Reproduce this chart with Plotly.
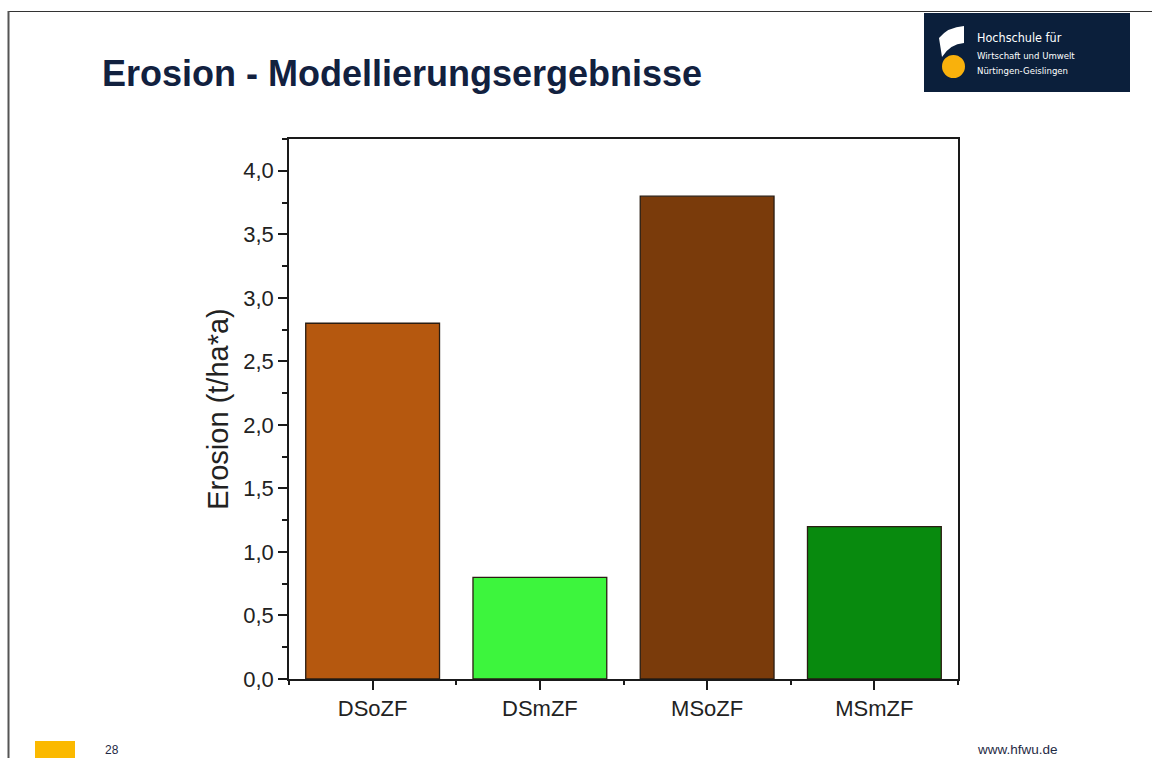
import plotly.graph_objects as go

# ---- data ----
categories = ["DSoZF", "DSmZF", "MSoZF", "MSmZF"]
erosion_values = [2.8, 0.8, 3.8, 1.2]
bar_colors = ["#B5580F", "#3DF53D", "#7A3B0B", "#088A0E"]
y_tick_values = [0, 0.5, 1, 1.5, 2, 2.5, 3, 3.5, 4]

TITLE = "Erosion - Modellierungsergebnisse"
Y_TITLE = "Erosion (t/ha*a)"

# ---- layout geometry (pixels) ----
W, H = 1152, 758
L, R, T, B = 289, 958, 139, 679
PW, PH = R - L, B - T


def px(x):
    return (x - L) / PW


def py(y):
    return (B - y) / PH


AXC = "#1a1a1a"
NAVY = "#12213F"
ARIAL = "Liberation Sans, Arial, sans-serif"

fig = go.Figure()
fig.add_trace(go.Bar(
    x=categories, y=erosion_values, width=0.8,
    marker=dict(color=bar_colors, line=dict(color="#2a1d12", width=1.3)),
    showlegend=False, hoverinfo="x+y",
))
# helper trace for boundary (minor) ticks on the category axis
fig.add_trace(go.Scatter(
    x=categories, y=erosion_values, xaxis="x2", mode="markers",
    marker=dict(opacity=0), showlegend=False, hoverinfo="skip",
))

shapes = [
    # slide frame
    dict(type="line", xref="paper", yref="paper", x0=px(8), x1=px(W), y0=py(11.5), y1=py(11.5),
         line=dict(color="#333333", width=1.2)),
    dict(type="line", xref="paper", yref="paper", x0=px(8.5), x1=px(8.5), y0=py(11), y1=py(H),
         line=dict(color="#555555", width=2)),
    # logo box
    dict(type="rect", xref="paper", yref="paper", x0=px(924), x1=px(1130), y0=py(13), y1=py(92),
         fillcolor="#0B1F3B", line=dict(width=0)),
    # logo white sheet
    dict(type="path", xref="paper", yref="paper",
         path=(f"M {px(939)},{py(38)} Q {px(948)},{py(27)} {px(964)},{py(26)} "
               f"L {px(964)},{py(43)} Q {px(950)},{py(44)} {px(942)},{py(57)} Z"),
         fillcolor="#FFFFFF", line=dict(width=0)),
    # logo yellow circle
    dict(type="circle", xref="paper", yref="paper", x0=px(942), x1=px(965), y0=py(55), y1=py(78),
         fillcolor="#F9B10C", line=dict(width=0)),
    # footer yellow block
    dict(type="rect", xref="paper", yref="paper", x0=px(35), x1=px(75), y0=py(741), y1=py(H),
         fillcolor="#FBB900", line=dict(width=0)),
]

logo_font = "Liberation Sans Narrow, DejaVu Sans Condensed, Roboto Condensed, Liberation Sans, sans-serif"
annotations = [
    dict(text=f"<b>{TITLE}</b>", x=px(100), y=py(73), xref="paper", yref="paper",
         xanchor="left", yanchor="middle", showarrow=False,
         font=dict(family=ARIAL, size=36, color=NAVY)),
    dict(text="Hochschule für", x=px(975), y=py(37.5), xref="paper", yref="paper",
         xanchor="left", yanchor="middle", showarrow=False,
         font=dict(family=logo_font, size=12.5, color="#FFFFFF")),
    dict(text="Wirtschaft und Umwelt", x=px(975), y=py(55.5), xref="paper", yref="paper",
         xanchor="left", yanchor="middle", showarrow=False,
         font=dict(family=logo_font, size=9.5, color="#FFFFFF")),
    dict(text="Nürtingen-Geislingen", x=px(975), y=py(71), xref="paper", yref="paper",
         xanchor="left", yanchor="middle", showarrow=False,
         font=dict(family=logo_font, size=9.5, color="#FFFFFF")),
    dict(text="28", x=px(103), y=py(750), xref="paper", yref="paper",
         xanchor="left", yanchor="middle", showarrow=False,
         font=dict(family=ARIAL, size=12, color="#1F2A44")),
    dict(text="www.hfwu.de", x=px(975), y=py(749.5), xref="paper", yref="paper",
         xanchor="left", yanchor="middle", showarrow=False,
         font=dict(family=ARIAL, size=13.5, color="#1F2A44")),
]

fig.update_layout(
    width=W, height=H,
    margin=dict(l=L, r=W - R, t=T, b=H - B, pad=0),
    paper_bgcolor="#FFFFFF", plot_bgcolor="#FFFFFF",
    separators=",.",
    bargap=0.2,
    shapes=shapes,
    annotations=annotations,
    xaxis=dict(
        type="category", categoryorder="array", categoryarray=categories,
        range=[-0.5, 3.5], showgrid=False, zeroline=False,
        showline=True, linecolor=AXC, linewidth=1.6, mirror=True,
        ticks="outside", ticklen=9, tickwidth=1.6, tickcolor=AXC,
        tickfont=dict(family=ARIAL, size=22, color="#222222"),
        fixedrange=True,
    ),
    xaxis2=dict(
        type="category", categoryorder="array", categoryarray=categories,
        overlaying="x", anchor="y", side="bottom",
        range=[-0.5, 3.5], showgrid=False, zeroline=False, showline=False,
        ticks="outside", tickson="boundaries", ticklen=5, tickwidth=1.6, tickcolor=AXC,
        showticklabels=False, fixedrange=True,
    ),
    yaxis=dict(
        range=[0, 4.25], tickvals=y_tick_values, tickformat=".1f",
        showgrid=False, zeroline=False,
        showline=True, linecolor=AXC, linewidth=1.6, mirror=True,
        ticks="outside", ticklen=9, tickwidth=1.6, tickcolor=AXC,
        tickfont=dict(family=ARIAL, size=22, color="#222222"),
        minor=dict(dtick=0.25, tick0=0, ticks="outside", ticklen=5, tickwidth=1.6,
                   tickcolor=AXC, showgrid=False),
        title=dict(text=Y_TITLE, standoff=6,
                   font=dict(family=ARIAL, size=29, color="#222222")),
        fixedrange=True,
    ),
)

fig.write_html(
    "out.html",
    config={"displayModeBar": False},
    post_script="document.body.style.margin='0';document.body.style.overflow='hidden';",
)
